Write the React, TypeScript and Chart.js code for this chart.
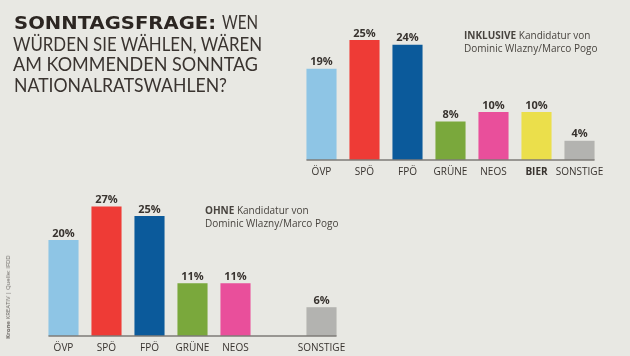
import React, { useEffect, useLayoutEffect, useRef } from "react";
import { Chart, registerables } from "chart.js";

Chart.register(...registerables);

const topCategories = ["ÖVP", "SPÖ", "FPÖ", "GRÜNE", "NEOS", "BIER", "SONSTIGE"];
const topValues = [19, 25, 24, 8, 10, 10, 4];
const bottomCategories = ["ÖVP", "SPÖ", "FPÖ", "GRÜNE", "NEOS", "", "SONSTIGE"];
const bottomValues: (number | null)[] = [20, 27, 25, 11, 11, null, 6];
const barColors = ["#8ec5e5", "#ee3b36", "#0b5a9b", "#7aa83c", "#e94f9b", "#ebdf4b", "#b3b3b0"];
const yMax = 30;

const titleSegments = [
  { text: "SONNTAGSFRAGE:", bold: true, left: 14, right: 216, top: 14 },
  { text: "WEN", bold: false, left: 222, right: 258, top: 13 },
  { text: "WÜRDEN SIE WÄHLEN, WÄREN", bold: false, left: 13, right: 262, top: 34.5 },
  { text: "AM KOMMENDEN SONNTAG", bold: false, left: 13, right: 258, top: 55.3 },
  { text: "NATIONALRATSWAHLEN?", bold: false, left: 14, right: 227, top: 76 },
];

const FONT = "'Open Sans', sans-serif";
const TEXT = "#38332f";
const AXIS_H = 20;

const barExtras = {
  id: "barExtras",
  afterDatasetsDraw(chart: any) {
    const ctx = chart.ctx;
    const meta = chart.getDatasetMeta(0);
    const vals = chart.data.datasets[0].data;
    const els = meta.data.filter((_: any, i: number) => vals[i] != null);
    if (!els.length) return;
    const first = els[0];
    const last = els[els.length - 1];
    const y = chart.chartArea.bottom;
    ctx.save();
    ctx.strokeStyle = "#7e7b77";
    ctx.lineWidth = 1.5;
    ctx.beginPath();
    ctx.moveTo(first.x - first.width / 2, y);
    ctx.lineTo(last.x + last.width / 2, y);
    ctx.stroke();
    ctx.fillStyle = TEXT;
    ctx.font = `bold 11px ${FONT}`;
    ctx.textAlign = "center";
    ctx.textBaseline = "bottom";
    meta.data.forEach((el: any, i: number) => {
      const v = vals[i];
      if (v == null) return;
      ctx.fillText(`${v}%`, el.x, el.y - 1);
    });
    ctx.restore();
  },
};

function makeChart(
  canvas: HTMLCanvasElement,
  labels: string[],
  values: (number | null)[],
  padding: { left: number; right: number; top: number; bottom: number },
  boldIndex: number
) {
  return new Chart(canvas, {
    type: "bar",
    data: {
      labels,
      datasets: [
        {
          data: values,
          backgroundColor: barColors,
          categoryPercentage: 1,
          barPercentage: 0.7,
        },
      ],
    },
    options: {
      responsive: false,
      animation: false,
      layout: { padding },
      plugins: { legend: { display: false }, tooltip: { enabled: false } },
      scales: {
        x: {
          grid: { display: false, drawTicks: false },
          border: { display: false },
          afterFit: (scale: any) => {
            scale.height = AXIS_H;
          },
          ticks: {
            color: TEXT,
            padding: 6,
            maxRotation: 0,
            autoSkip: false,
            font: (c: any) => ({
              family: FONT,
              size: 10,
              weight: c.index === boldIndex ? "bold" : "normal",
            }),
          },
        },
        y: { display: false, min: 0, max: yMax },
      },
    },
    plugins: [barExtras],
  });
}

export default function App() {
  const topRef = useRef<HTMLCanvasElement>(null);
  const botRef = useRef<HTMLCanvasElement>(null);
  const segRefs = useRef<(HTMLSpanElement | null)[]>([]);

  useLayoutEffect(() => {
    titleSegments.forEach((s, i) => {
      const el = segRefs.current[i];
      if (!el) return;
      el.style.transform = "none";
      const w = el.getBoundingClientRect().width;
      if (w > 0) el.style.transform = `scaleX(${(s.right - s.left) / w})`;
    });
  }, []);

  useEffect(() => {
    const c1 = makeChart(topRef.current!, topCategories, topValues, { left: 300, right: 29, top: 16, bottom: 356 - 160 - AXIS_H }, 5);
    const c2 = makeChart(botRef.current!, bottomCategories, bottomValues, { left: 42, right: 287, top: 192, bottom: 356 - 336 - AXIS_H }, -1);
    return () => {
      c1.destroy();
      c2.destroy();
    };
  }, []);

  const abs: React.CSSProperties = { position: "absolute", left: 0, top: 0 };

  return (
    <div style={{ position: "absolute", left: 0, top: 0, width: 630, height: 356, background: "#e8e8e3", overflow: "hidden" }}>
      <canvas ref={topRef} width={630} height={356} style={abs} />
      <canvas ref={botRef} width={630} height={356} style={abs} />
      {titleSegments.map((s, i) => (
        <span
          key={i}
          ref={(el) => {
            segRefs.current[i] = el;
          }}
          style={{
            position: "absolute",
            left: s.left,
            top: s.top,
            fontFamily: s.bold ? "'DejaVu Sans', sans-serif" : "Lato, sans-serif",
            fontWeight: s.bold ? 700 : 400,
            fontSize: 18.5,
            lineHeight: "18.5px",
            color: s.bold ? "#2c2622" : "#3a3430",
            whiteSpace: "nowrap",
            transformOrigin: "0 0",
          }}
        >
          {s.text}
        </span>
      ))}
      <div
        style={{
          position: "absolute",
          left: 464,
          top: 29,
          fontFamily: FONT,
          fontSize: 10,
          lineHeight: "12.5px",
          color: "#48443f",
          whiteSpace: "nowrap",
        }}
      >
        <b>INKLUSIVE</b> Kandidatur von
        <br />
        Dominic Wlazny/Marco Pogo
      </div>
      <div
        style={{
          position: "absolute",
          left: 205,
          top: 204,
          fontFamily: FONT,
          fontSize: 10,
          lineHeight: "13px",
          color: "#48443f",
          whiteSpace: "nowrap",
        }}
      >
        <b>OHNE</b> Kandidatur von
        <br />
        Dominic Wlazny/Marco Pogo
      </div>
      <div
        style={{
          position: "absolute",
          left: 8,
          top: 297,
          transform: "translate(-50%, -50%) rotate(-90deg)",
          fontFamily: FONT,
          fontSize: 6,
          color: "#6f6b67",
          whiteSpace: "nowrap",
        }}
      >
        <b>Krone</b> KREATIV | Quelle: IFDD
      </div>
    </div>
  );
}
